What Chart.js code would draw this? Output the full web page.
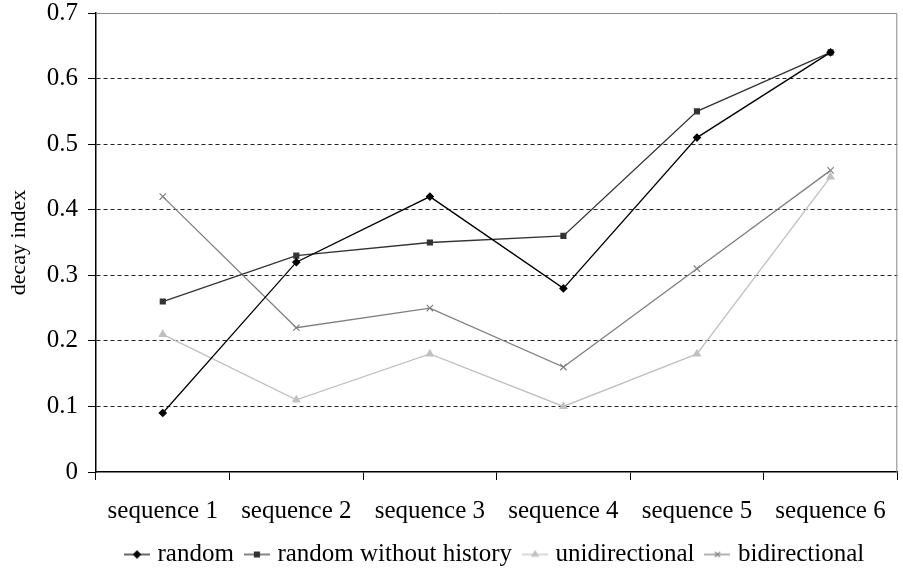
<!DOCTYPE html>
<html>
<head>
<meta charset="utf-8">
<script src="https://cdn.jsdelivr.net/npm/chart.js@4/dist/chart.umd.min.js"></script>
<style>
  html, body { margin: 0; padding: 0; background: #fff; }
  #wrap { width: 903px; height: 575px; }
</style>
</head>
<body>
<div id="wrap"><canvas id="decayChart"></canvas></div>
<script>
// categories and series
const sequences = ['sequence 1', 'sequence 2', 'sequence 3', 'sequence 4', 'sequence 5', 'sequence 6'];
const randomValues = [0.09, 0.32, 0.42, 0.28, 0.51, 0.64];
const randomNoHistory = [0.26, 0.33, 0.35, 0.36, 0.55, 0.64];
const unidirectional = [0.21, 0.11, 0.18, 0.10, 0.18, 0.45];
const bidirectional = [0.42, 0.22, 0.25, 0.16, 0.31, 0.46];

const serif = '"Liberation Serif", "Times New Roman", serif';

// small legend swatch: line with marker in the middle
function swatch(color, style) {
    const c = document.createElement('canvas');
    c.width = 26; c.height = 12;
    const g = c.getContext('2d');
    g.strokeStyle = color;
    g.fillStyle = color;
    g.lineWidth = 1.2;
    g.beginPath(); g.moveTo(0, 6); g.lineTo(26, 6); g.stroke();
    Chart.helpers.drawPoint(g, { pointStyle: style, radius: 3.5, borderWidth: 1.2 }, 13, 6);
    return c;
}

function makeSet(label, data, color, style, radius) {
    return {
        label: label,
        data: data,
        borderColor: color,
        backgroundColor: color,
        borderWidth: 1.3,
        pointStyle: style,
        pointRadius: radius,
        pointBorderWidth: 1.2,
        tension: 0
    };
}

// frame on top and right of the plot
const framePlugin = {
    id: 'frame',
    afterDraw(chart) {
        const a = chart.chartArea, ctx = chart.ctx;
        ctx.save();
        ctx.strokeStyle = '#888';
        ctx.lineWidth = 1;
        ctx.beginPath();
        ctx.moveTo(a.left, a.top + 0.5);
        ctx.lineTo(a.right - 0.5, a.top + 0.5);
        ctx.lineTo(a.right - 0.5, a.bottom);
        ctx.stroke();
        ctx.restore();
    }
};

document.addEventListener('DOMContentLoaded', function() {
    const ctx = document.getElementById('decayChart').getContext('2d');
    const sets = [
        makeSet('random', randomValues, '#000000', 'rectRot', 3.5),
        makeSet('random without history', randomNoHistory, '#333333', 'rect', 3.5),
        makeSet('unidirectional', unidirectional, '#c0c0c0', 'triangle', 4),
        makeSet('bidirectional', bidirectional, '#808080', 'crossRot', 4.5)
    ];
    sets.forEach(s => { s.legendImage = swatch(s.borderColor, s.pointStyle); });

    new Chart(ctx, {
        type: 'line',
        data: { labels: sequences, datasets: sets },
        plugins: [framePlugin],
        options: {
            responsive: true,
            maintainAspectRatio: false,
            animation: false,
            layout: { padding: { top: 0, right: 2, left: 6, bottom: -2 } },
            plugins: {
                tooltip: { enabled: false },
                legend: {
                    position: 'bottom',
                    fullSize: false,
                    labels: {
                        usePointStyle: true,
                        pointStyleWidth: 16,
                        color: '#000',
                        font: { family: serif, size: 25 },
                        padding: 15,
                        generateLabels(chart) {
                            return chart.data.datasets.map((d, i) => ({
                                text: d.label,
                                pointStyle: d.legendImage,
                                fontColor: '#000',
                                strokeStyle: d.borderColor,
                                fillStyle: d.borderColor,
                                lineWidth: 0,
                                datasetIndex: i
                            }));
                        }
                    }
                }
            },
            scales: {
                x: {
                    offset: true,
                    grid: {
                        offset: true,
                        drawOnChartArea: false,
                        drawTicks: true,
                        tickLength: 8,
                        color: '#000'
                    },
                    border: { color: '#000', width: 1.5 },
                    ticks: {
                        color: '#000',
                        padding: 16,
                        maxRotation: 0,
                        font: { family: serif, size: 25 }
                    },
                    afterFit(scale) { scale.height = 55; }
                },
                y: {
                    min: 0,
                    max: 0.7,
                    ticks: {
                        stepSize: 0.1,
                        color: '#000',
                        padding: 10,
                        font: { family: serif, size: 25 },
                        callback: v => Math.round(v * 10) / 10
                    },
                    grid: {
                        color: c => (c.tick && (c.tick.value === 0 || Math.abs(c.tick.value - 0.7) < 1e-9)) ? 'rgba(0,0,0,0)' : '#222',
                        tickColor: '#000',
                        tickLength: 8,
                        tickBorderDash: [],
                        lineWidth: 1
                    },
                    border: { color: '#000', width: 1.5, dash: [4, 3] },
                    title: {
                        display: true,
                        text: 'decay index',
                        color: '#000',
                        font: { family: serif, size: 22 },
                        padding: { top: 0, bottom: 4 }
                    },
                    afterFit(scale) {
                        scale.width = 90;
                        scale.paddingTop = 13;
                        scale.paddingBottom = 0;
                    }
                }
            }
        }
    });
});
</script>
</body>
</html>
